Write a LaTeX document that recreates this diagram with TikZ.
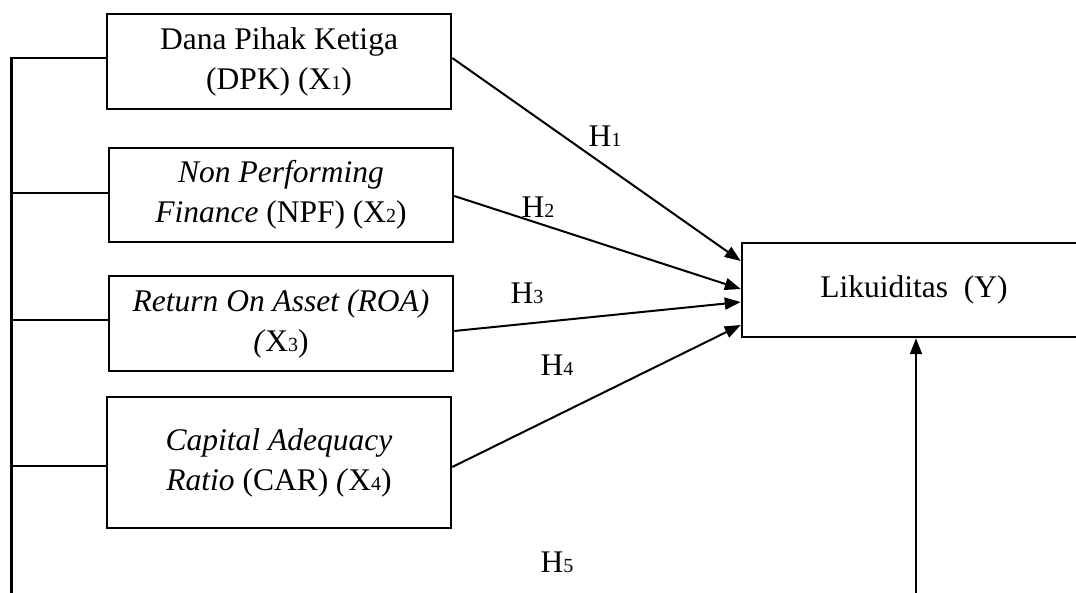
\documentclass[tikz,border=0pt]{standalone}
\usepackage{fontspec}
\setmainfont{Liberation Serif}
\usetikzlibrary{arrows.meta}
\newcommand{\sbs}[1]{{\fontsize{20}{20}\selectfont #1}}
\begin{document}
\begin{tikzpicture}[x=1pt,y=-1pt,
  varbox/.style={draw,line width=2.5pt,rectangle,minimum width=344pt,align=center,inner sep=0pt,
    font=\fontsize{31.5}{40}\selectfont},
  conn/.style={line width=2pt},
  arr/.style={conn,-{Triangle[length=16pt,width=12pt]}},
  hlab/.style={anchor=base,inner sep=0pt,font=\fontsize{31.5}{36}\selectfont}]
\clip (0,0) rectangle (1076,593);
\fill[white] (0,0) rectangle (1076,593);
\node[varbox,minimum height=95pt] (b1) at (279,61.5) {Dana Pihak Ketiga\\(DPK) (X\sbs{1})};
\node[varbox,minimum height=94pt] (b2) at (281,195) {\textit{Non Performing}\\\textit{Finance} (NPF) (X\sbs{2})};
\node[varbox,minimum height=95pt] (b3) at (281,323.5) {\textit{Return On Asset (ROA)}\\\textit{(}X\sbs{3})};
\node[varbox,minimum height=131pt] (b4) at (279,462.5) {\textit{Capital Adequacy}\\\textit{Ratio} (CAR) \textit{(}X\sbs{4})};
\node[varbox,minimum height=94pt] (y) at (914,290) {Likuiditas~~(Y)};
% trunk
\coordinate (ttop) at (11.5,58);
\coordinate (tbot) at (11.5,600);
\coordinate (t2) at (11.5,193);
\coordinate (t3) at (11.5,320);
\coordinate (t4) at (11.5,466);
\draw[line width=2.5pt] (ttop -| b1.west) -- (ttop) -- (tbot);
\draw[conn] (t2) -- (t2 -| b2.west);
\draw[conn] (t3) -- (t3 -| b3.west);
\draw[conn] (t4) -- (t4 -| b4.west);
% arrows
\draw[arr] ([yshift=3.5pt]b1.east) -- ([yshift=29pt]y.west);
\draw[arr] ([yshift=-1pt]b2.east) -- ([yshift=1pt]y.west);
\draw[arr] ([yshift=-7.5pt]b3.east) -- ([yshift=-12pt]y.west);
\draw[arr] ([yshift=-4.5pt]b4.east) -- ([yshift=-35pt]y.west);
\coordinate (ybot) at (916,600);
\draw[arr] (ybot) -- (ybot |- y.south);
% labels
\node[hlab] (h1) at (605,147) {H\sbs{1}};
\node[hlab] (h2) at (538,218) {H\sbs{2}};
\node[hlab] (h3) at (527,304) {H\sbs{3}};
\node[hlab] (h4) at (557,375) {H\sbs{4}};
\node[hlab] (h5) at (557,572) {H\sbs{5}};
\end{tikzpicture}
\end{document}
